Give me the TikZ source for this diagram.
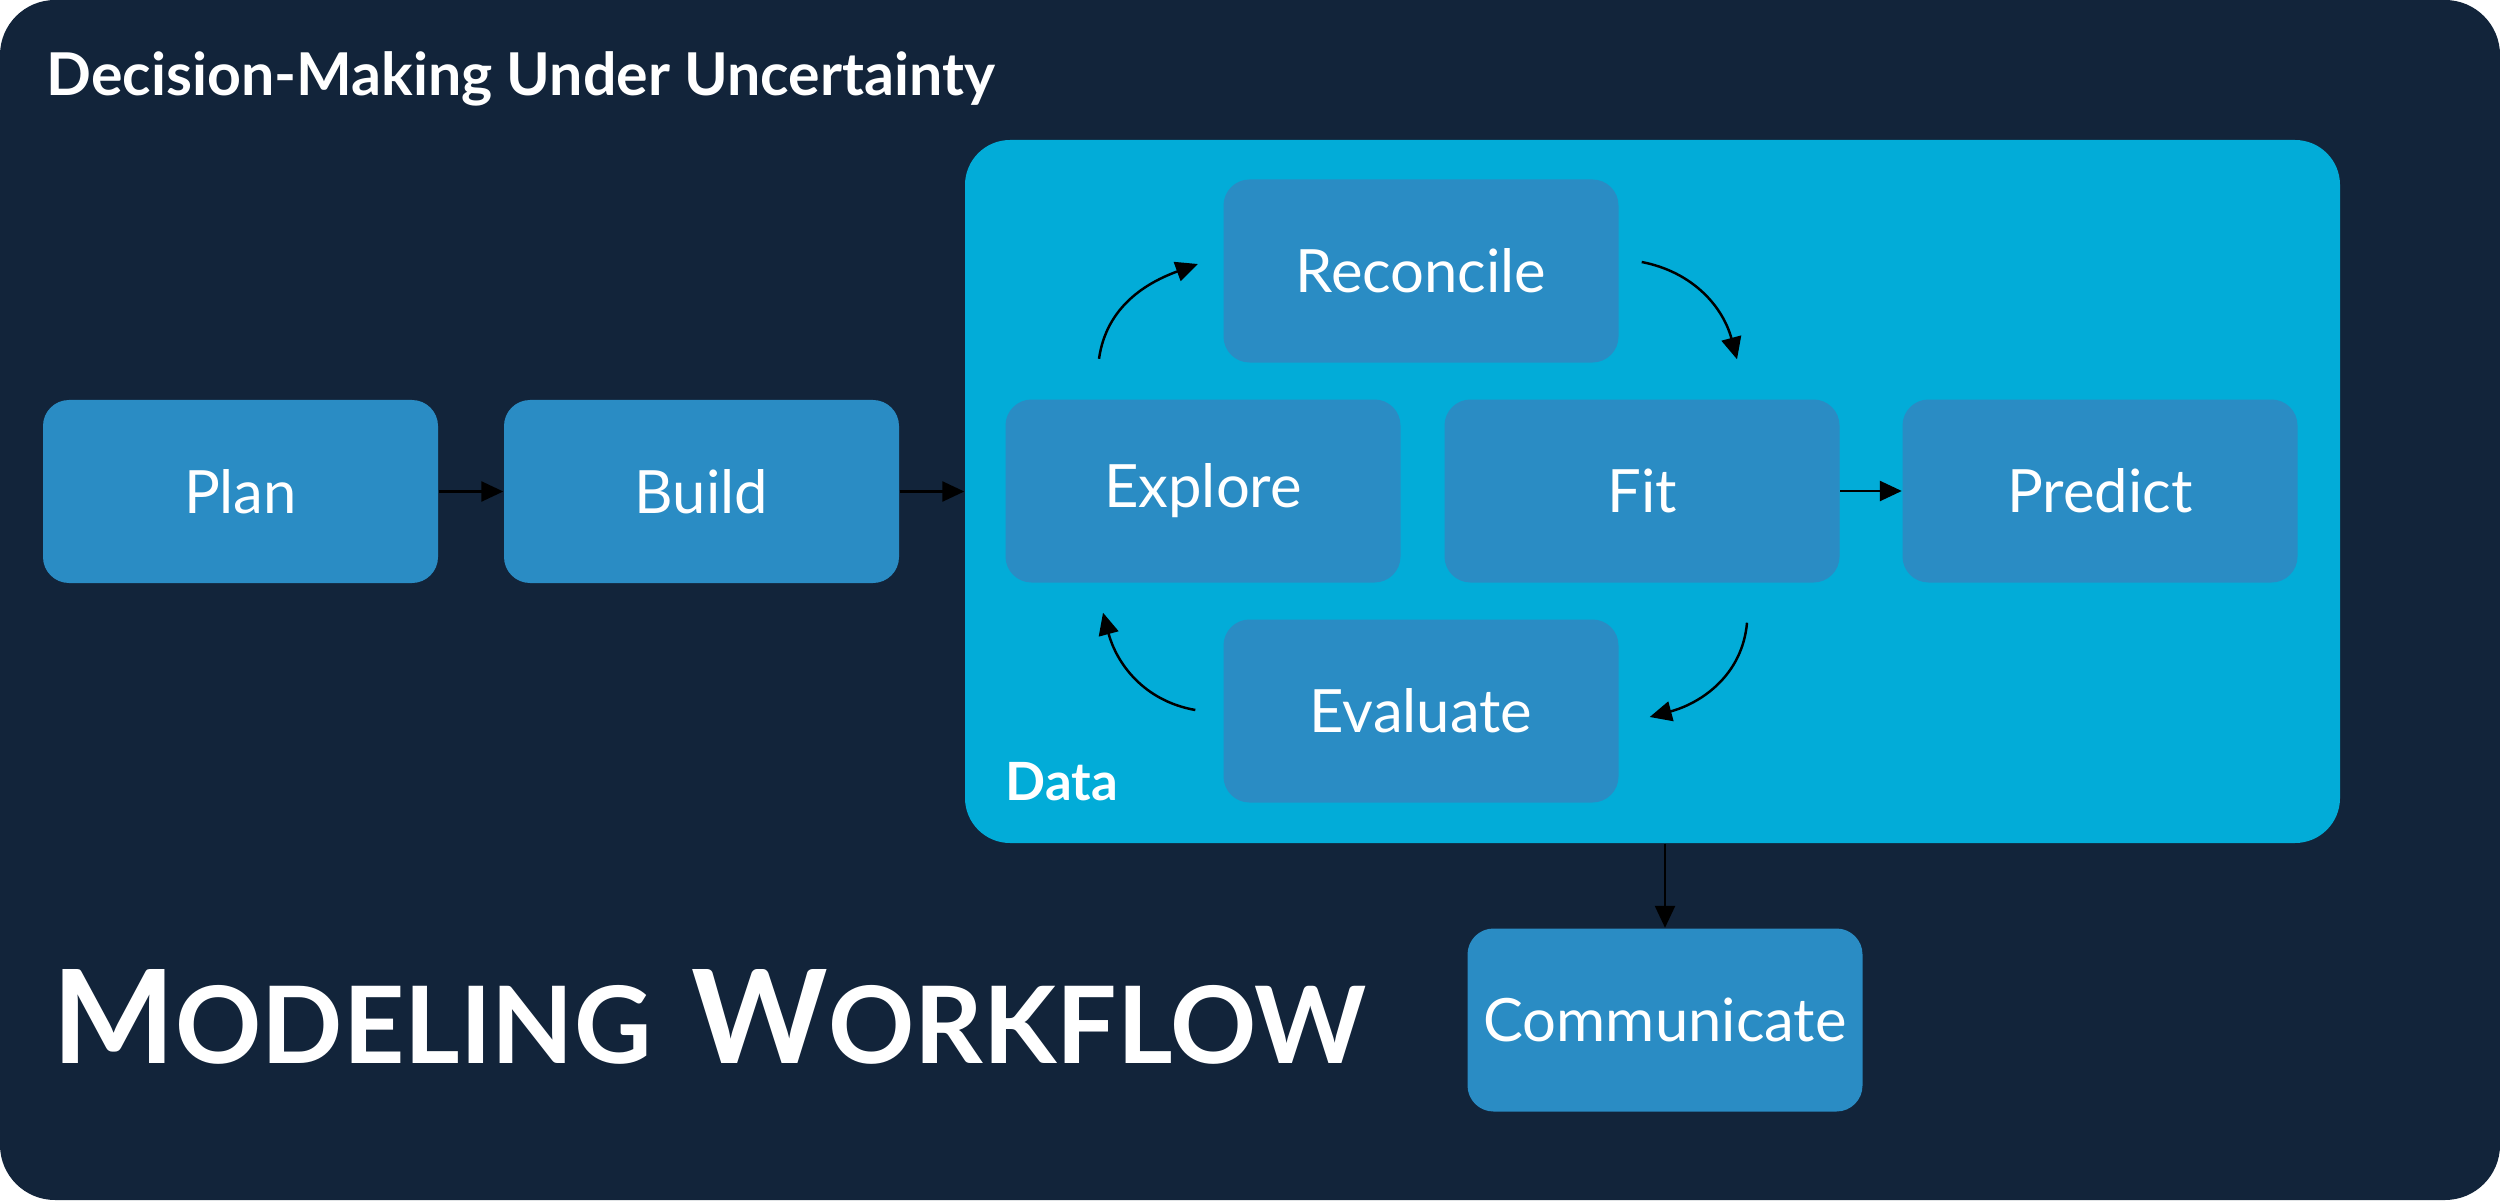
\documentclass[tikz,border=0pt]{standalone}
\usepackage{fontspec}
\setmainfont{Lato}
\usetikzlibrary{arrows.meta}
\definecolor{navy}{HTML}{12243A}
\definecolor{datablue}{HTML}{02ACD8}
\definecolor{stageblue}{HTML}{2A8CC4}
% big initial, smaller upper-case rest
\newcommand{\capword}[2]{{\fontsize{37}{40}\selectfont #1}{\fontsize{30.4}{33}\selectfont\MakeUppercase{#2}}}

\begin{document}
\begin{tikzpicture}
        \tikzstyle{stage}=[fill=stageblue, rounded corners=0.26cm, minimum width=3.95cm, minimum height=1.83cm, inner sep=0pt, text=white, font=\fontsize{17}{20}\selectfont]
        \tikzstyle{flow}=[draw=black, line width=0.7pt, -{Triangle[length=2.2mm,width=2mm]}]
        \fill[navy, rounded corners=0.55cm] (0,0) rectangle (25,12);
        \node[anchor=base west, text=white, font=\bfseries\fontsize{16.8}{20}\selectfont, inner sep=0pt] (title) at (0.46,11.04) {Decision-Making Under Uncertainty};
        % data area
        \node[fill=datablue, rounded corners=0.45cm, minimum width=13.75cm, minimum height=7.03cm, inner sep=0pt] (data) at (16.525,7.085) {};
        \node[anchor=base west, text=white, font=\bfseries\fontsize{15}{17}\selectfont, inner sep=0pt] (datalabel) at (10.05,4.00) {Data};
        % stages
        \node[stage] (plan) at (2.405,7.085) {Plan};
        \node[stage] (build) at (7.015,7.085) {Build};
        \node[stage] (explore) at (12.03,7.09) {Explore};
        \node[stage] (fit) at (16.42,7.09) {Fit};
        \node[stage] (predict) at (21.00,7.09) {Predict};
        \node[stage] (reconcile) at (14.21,9.29) {Reconcile};
        \node[stage] (evaluate) at (14.21,4.89) {Evaluate};
        \node[stage] (communicate) at (16.65,1.80) {Communicate};
        \node[anchor=base west, text=white, font=\bfseries, inner sep=0pt] (heading) at (0.52,1.37) {\capword{M}{odeling}\hspace{0.4cm}\capword{W}{orkflow}};
        % straight arrows
        \draw[flow] (plan.east) -- (build.west);
        \draw[flow] (build.east) -- (data.west);
        \draw[flow] (fit.east) -- (predict.west);
        \draw[flow] (data.south -| communicate) -- (communicate.north);
        % the loop
        \draw[flow] ([shift={(-1.04,0.4)}]explore.north) to[out=82,in=200] ([shift={(-0.25,0.07)}]reconcile.west);
        \draw[flow] ([shift={(0.225,0.09)}]reconcile.east) to[out=-11,in=105] ([shift={(0.95,0.395)}]fit.north);
        \draw[flow] ([shift={(1.05,-0.395)}]fit.south) to[out=-95,in=15] ([shift={(0.305,-0.06)}]evaluate.east);
        \draw[flow] ([shift={(-0.275,0.01)}]evaluate.west) to[out=170,in=-75] ([shift={(-1.0,-0.295)}]explore.south);
\end{tikzpicture}
\end{document}
